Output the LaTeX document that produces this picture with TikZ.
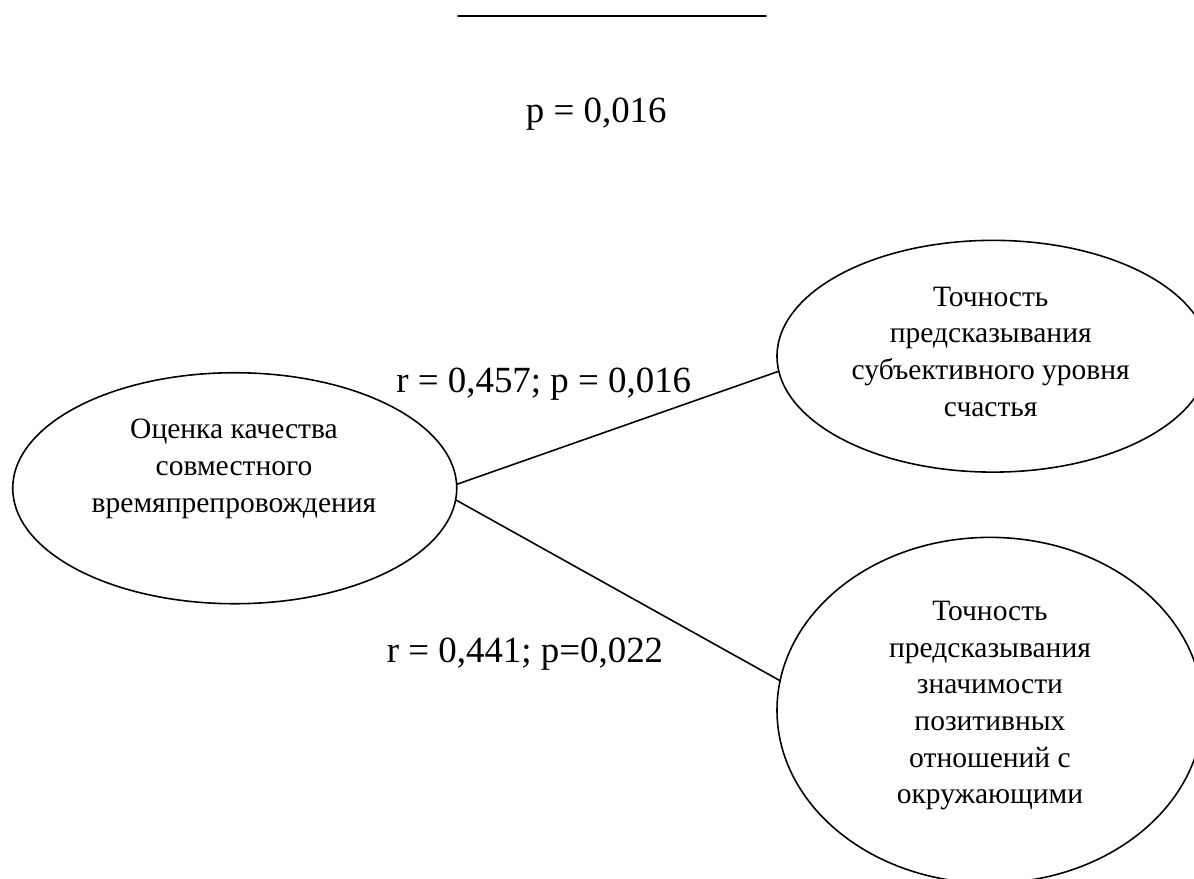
\documentclass[tikz,border=0pt]{standalone}
\usepackage{fontspec}
\setmainfont{Liberation Serif}
\usetikzlibrary{shapes.geometric}
\begin{document}
\begin{tikzpicture}[line join=round,line cap=round,font=\fontsize{11.2}{13.9}\selectfont,scale=1,
	oval/.style={draw,ellipse,line width=0.6pt,inner sep=0pt,outer sep=0pt},
	oneline/.style={inner sep=0pt,align=center},
	stat/.style={inner sep=0pt,anchor=base,font=\fontsize{14}{16}\selectfont}]
				\clip(0,0)rectangle(15.92,11.72);
				\coordinate(barL)at(6.11,11.51);
				\coordinate(barR)at(10.21,11.51);
				\draw[line width=0.8pt](barL)--(barR);
				\node[stat](ptop)at(7.95,10.08){p = 0,016};
				\node[oval,minimum width=5.92cm,minimum height=3.08cm](quality)at(3.13,5.21){};
				\node[oneline](qualitytxt)at(3.12,5.47){Оценка качества\\совместного\\времяпрепровождения};
				\node[oval,minimum width=5.76cm,minimum height=3.09cm](happy)at(13.24,6.97){};
				\node[oneline](happytxt)at(13.21,7.03){Точность\\предсказывания\\субъективного уровня\\счастья};
				\node[oval,minimum width=5.68cm,minimum height=4.61cm](relation)at(13.2,2.25){};
				\node[oneline](relationtxt)at(13.2,2.31){Точность\\предсказывания\\значимости\\позитивных\\отношений с\\окружающими};
				\draw[line width=0.6pt](quality.1)--(happy.184);
				\draw[line width=0.6pt](quality.-3)--(relation.172);
				\node[stat](rhappy)at(7.25,6.49){r = 0,457; p = 0,016};
				\node[stat](rrelation)at(7.0,2.88){r = 0,441; p=0,022};
			\end{tikzpicture}
\end{document}
